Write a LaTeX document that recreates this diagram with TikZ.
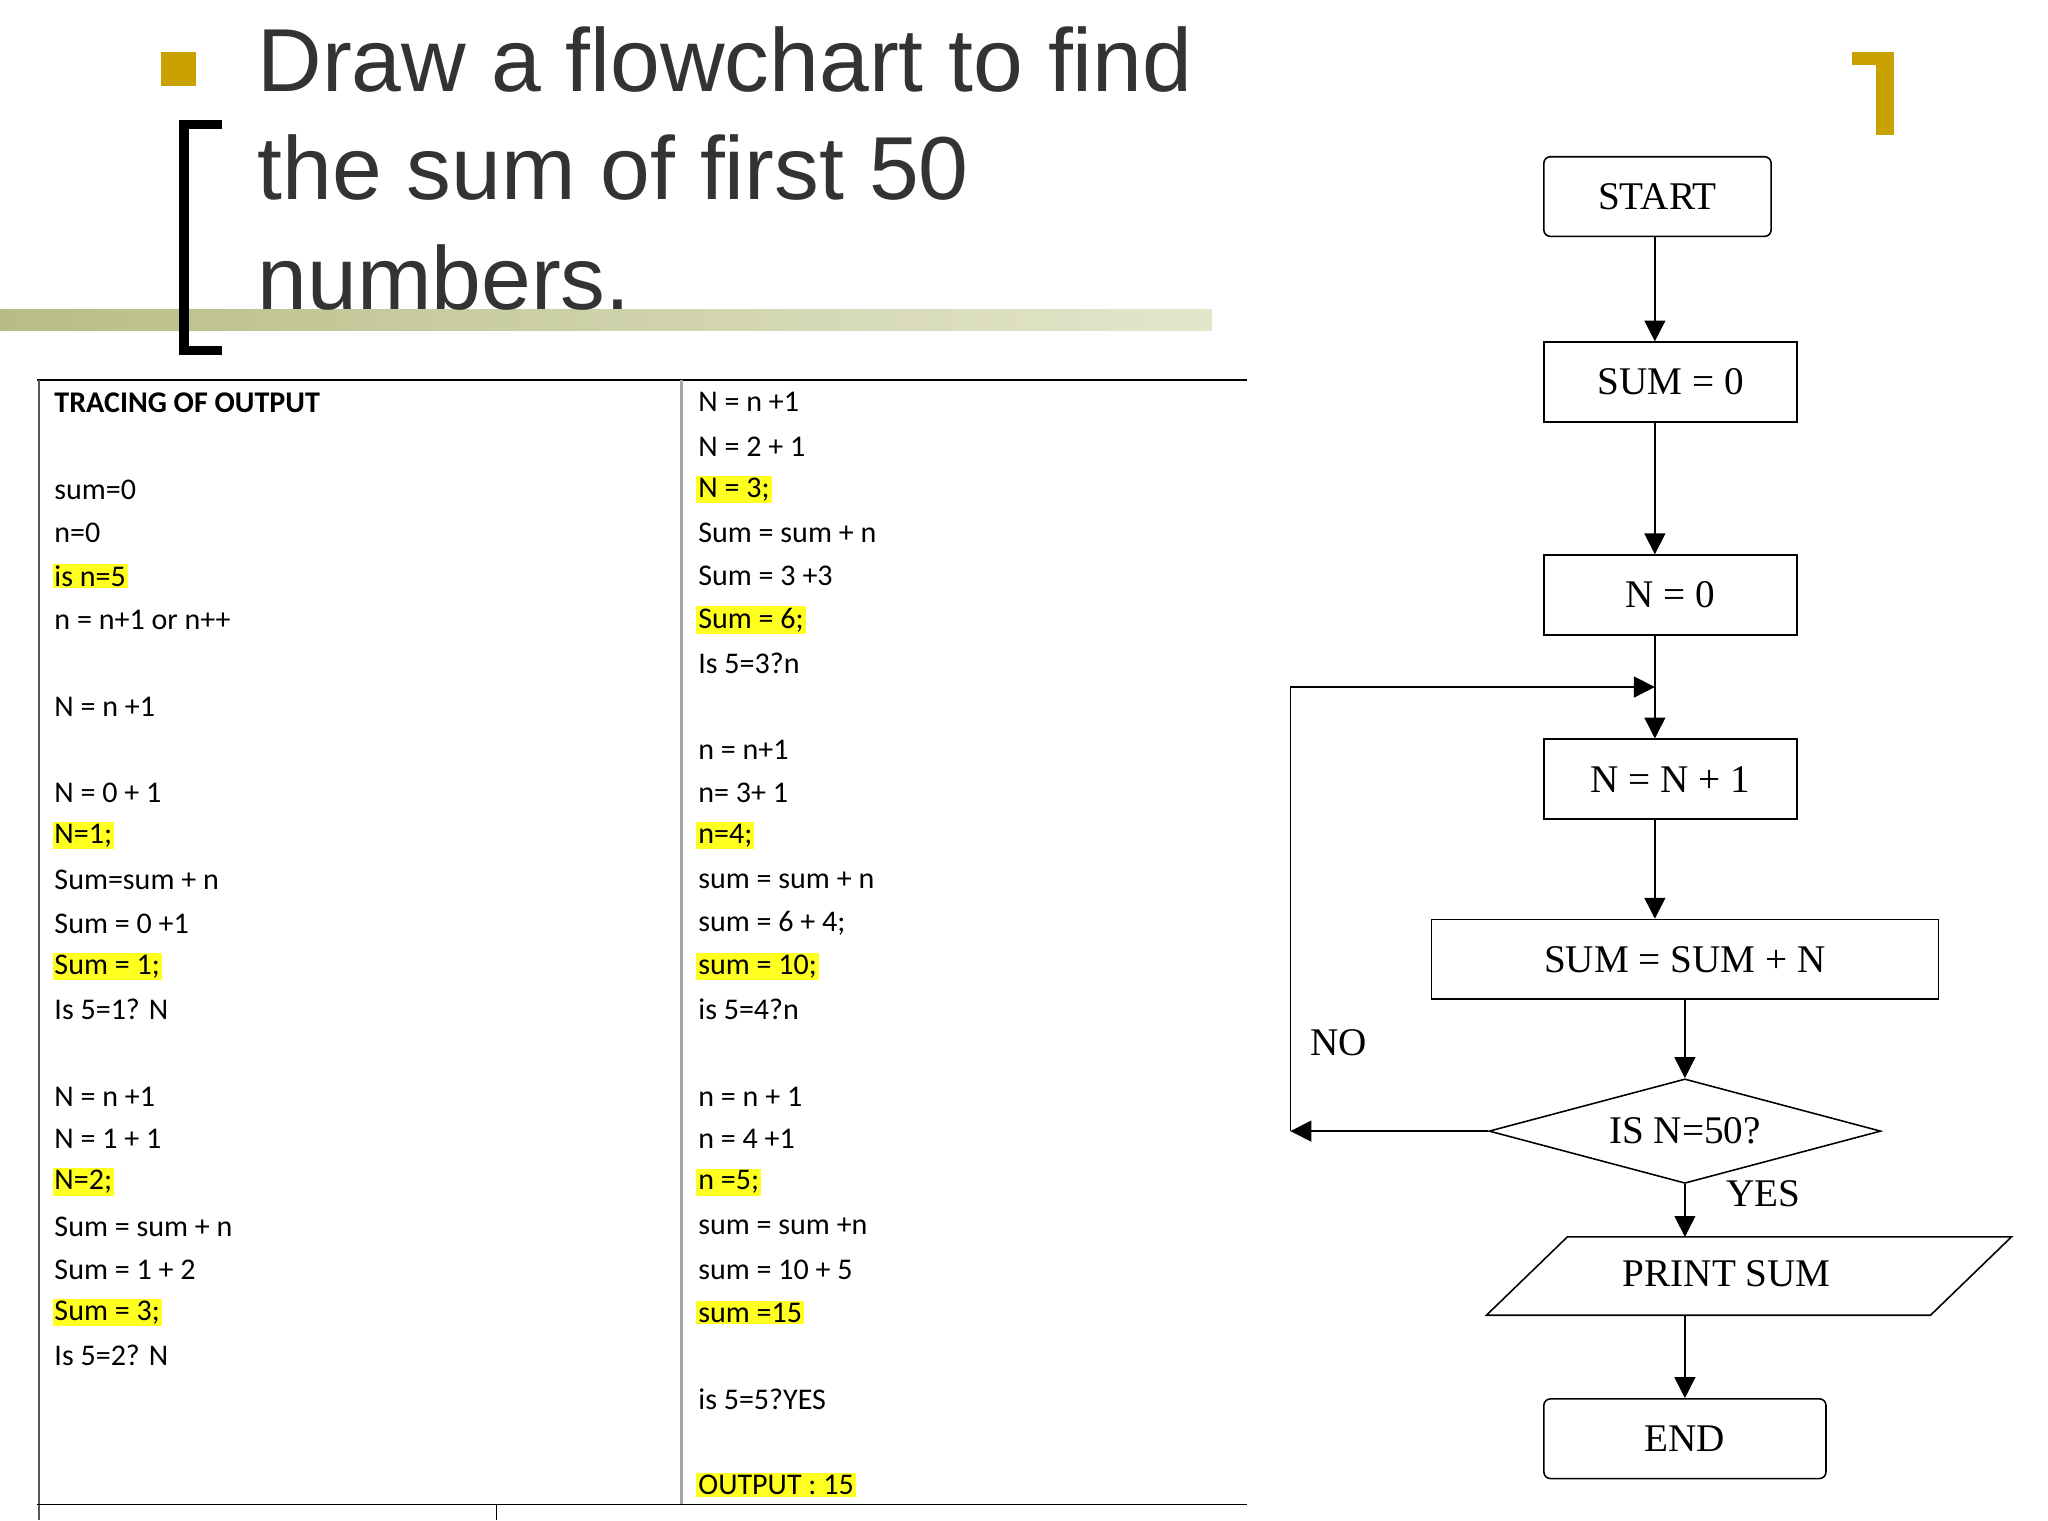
\documentclass[tikz,border=0pt]{standalone}
\usepackage{fontspec}
\setmainfont{Liberation Serif}
\newfontfamily\carl{Carlito}
\newfontfamily\arl{Liberation Sans}
\usetikzlibrary{arrows.meta,shapes.geometric}
\definecolor{gold}{HTML}{C9A100}
\definecolor{olivel}{HTML}{B8BD86}
\definecolor{olivr}{HTML}{E4E6CC}
\definecolor{ttl}{HTML}{333333}
\definecolor{hly}{HTML}{FFFF20}
\begin{document}
\begin{tikzpicture}[x=1pt,y=-1pt,
  tx/.style={anchor=west,inner sep=1.5pt,font=\carl\fontsize{23}{26}\selectfont},
  hl/.style={tx,fill=hly},
  ttlt/.style={anchor=base west,inner sep=0,text=ttl,font=\arl\fontsize{68.5}{84}\selectfont},
  fbox/.style={draw,line width=1.2pt,minimum height=61pt,font=\fontsize{30}{34}\selectfont},
  arr/.style={line width=1.2pt,-{Triangle[width=16pt,length=16pt]}}]
\useasboundingbox (0,0) rectangle (1568,1164);
% title area
\fill[gold] (123,40) rectangle (150,66);
\shade[left color=olivel,right color=olivr] (0,237) rectangle (928,253);
\fill (137,92) rectangle (145,272);
\fill (137,92) rectangle (170,99);
\fill (137,265) rectangle (170,272);
\node[ttlt] (t1) at (197,70) {Draw a flowchart to find};
\node[ttlt] (t2) at (197,153) {the sum of first 50};
\node[ttlt] (t3) at (197,237) {numbers.};
\fill[gold] (1418,40) rectangle (1450,50);
\fill[gold] (1436,40) rectangle (1450,103);
% table
\draw[line width=1pt] (28,291) -- (955,291);
\draw[line width=1.2pt,gray!70!black] (30,291) -- (30,1164);
\draw[line width=2pt,gray!70] (522,291) -- (522,1152);
\draw[line width=1pt] (28,1152) -- (955,1152);
\draw[line width=1pt] (380,1152) -- (380,1164);
% left column
\node[tx,font=\carl\bfseries\fontsize{23}{26}\selectfont] (l0) at (40,308) {TRACING OF OUTPUT};
\node[tx] (l1) at (40,375) {sum=0};
\node[tx] (l2) at (40,408) {n=0};
\node[hl] (l3) at (40,441) {is n=5};
\node[tx] (l4) at (40,475) {n = n+1 or n++};
\node[tx] (l5) at (40,541) {N = n +1};
\node[tx] (l6) at (40,607) {N = 0 + 1};
\node[hl] (l7) at (40,640) {N=1;};
\node[tx] (l8) at (40,674) {Sum=sum + n};
\node[tx] (l9) at (40,707) {Sum = 0 +1};
\node[hl] (l10) at (40,740) {Sum = 1;};
\node[tx] (l11) at (40,773) {Is 5=1? N};
\node[tx] (l12) at (40,840) {N = n +1};
\node[tx] (l13) at (40,872) {N = 1 + 1};
\node[hl] (l14) at (40,905) {N=2;};
\node[tx] (l15) at (40,939) {Sum = sum + n};
\node[tx] (l16) at (40,972) {Sum = 1 + 2};
\node[hl] (l17) at (40,1005) {Sum = 3;};
\node[tx] (l18) at (40,1038) {Is 5=2? N};
% right column
\node[tx] (r0) at (533,308) {N = n +1};
\node[tx] (r1) at (533,342) {N = 2 + 1};
\node[hl] (r2) at (533,375) {N = 3;};
\node[tx] (r3) at (533,408) {Sum = sum + n};
\node[tx] (r4) at (533,441) {Sum = 3 +3};
\node[hl] (r5) at (533,475) {Sum = 6;};
\node[tx] (r6) at (533,508) {Is 5=3?n};
\node[tx] (r7) at (533,574) {n = n+1};
\node[tx] (r8) at (533,607) {n= 3+ 1};
\node[hl] (r9) at (533,640) {n=4;};
\node[tx] (r10) at (533,674) {sum = sum + n};
\node[tx] (r11) at (533,707) {sum = 6 + 4;};
\node[hl] (r12) at (533,740) {sum = 10;};
\node[tx] (r13) at (533,773) {is 5=4?n};
\node[tx] (r14) at (533,840) {n = n + 1};
\node[tx] (r15) at (533,872) {n = 4 +1};
\node[hl] (r16) at (533,905) {n =5;};
\node[tx] (r17) at (533,939) {sum = sum +n};
\node[tx] (r18) at (533,972) {sum = 10 + 5};
\node[hl] (r19) at (533,1005) {sum =15};
\node[tx] (r20) at (533,1071) {is 5=5?YES};
\node[hl] (r21) at (533,1137) {OUTPUT : 15};
% flowchart
\node[fbox,rounded corners=5pt,minimum width=174pt] (start) at (1269,150.5) {START};
\node[fbox,minimum width=194pt] (sum0) at (1279,292.5) {SUM = 0};
\node[fbox,minimum width=194pt] (n0) at (1279,455.5) {N = 0};
\node[fbox,minimum width=194pt] (n1) at (1279,596.5) {N = N + 1};
\node[fbox,minimum width=388pt] (sumn) at (1290,734.5) {SUM = SUM + N};
\node[draw,line width=1.2pt,diamond,aspect=3.75,minimum width=300pt,minimum height=80pt,inner sep=0,font=\fontsize{30}{34}\selectfont] (dec) at (1290,866) {IS N=50?};
\coordinate (p1) at (1200,947);
\coordinate (p2) at (1540,947);
\coordinate (p3) at (1478,1007);
\coordinate (p4) at (1138,1007);
\draw[line width=1.2pt] (p1) -- (p2) -- (p3) -- (p4) -- cycle;
\coordinate (ptop) at (1290,947);
\coordinate (pbot) at (1290,1007);
\node[font=\fontsize{30}{34}\selectfont] (prtt) at (1322,975) {PRINT SUM};
\node[fbox,rounded corners=5pt,minimum width=216pt] (end) at (1290,1101.5) {END};
\node[font=\fontsize{30}{34}\selectfont] (no) at (1025,798) {NO};
\node[font=\fontsize{30}{34}\selectfont] (yes) at (1350,914) {YES};
\draw[arr] (start.south -| 1267,0) -- (sum0.north -| 1267,0);
\draw[arr] (sum0.south -| 1267,0) -- (n0.north -| 1267,0);
\draw[arr] (n0.south -| 1267,0) -- (n1.north -| 1267,0);
\draw[arr] (n1.south -| 1267,0) -- (sumn.north -| 1267,0);
\draw[arr] (sumn.south -| 1290,0) -- (dec.north);
\draw[arr] (dec.south) -- (ptop);
\draw[arr] (pbot) -- (end.north);
\coordinate (lb) at (988,866);
\coordinate (lt) at (988,526);
\coordinate (lj) at (1267,526);
\draw[arr] (dec.west) -- (lb);
\draw[arr] (lb) -- (lt) -- (lj);
\end{tikzpicture}
\end{document}
